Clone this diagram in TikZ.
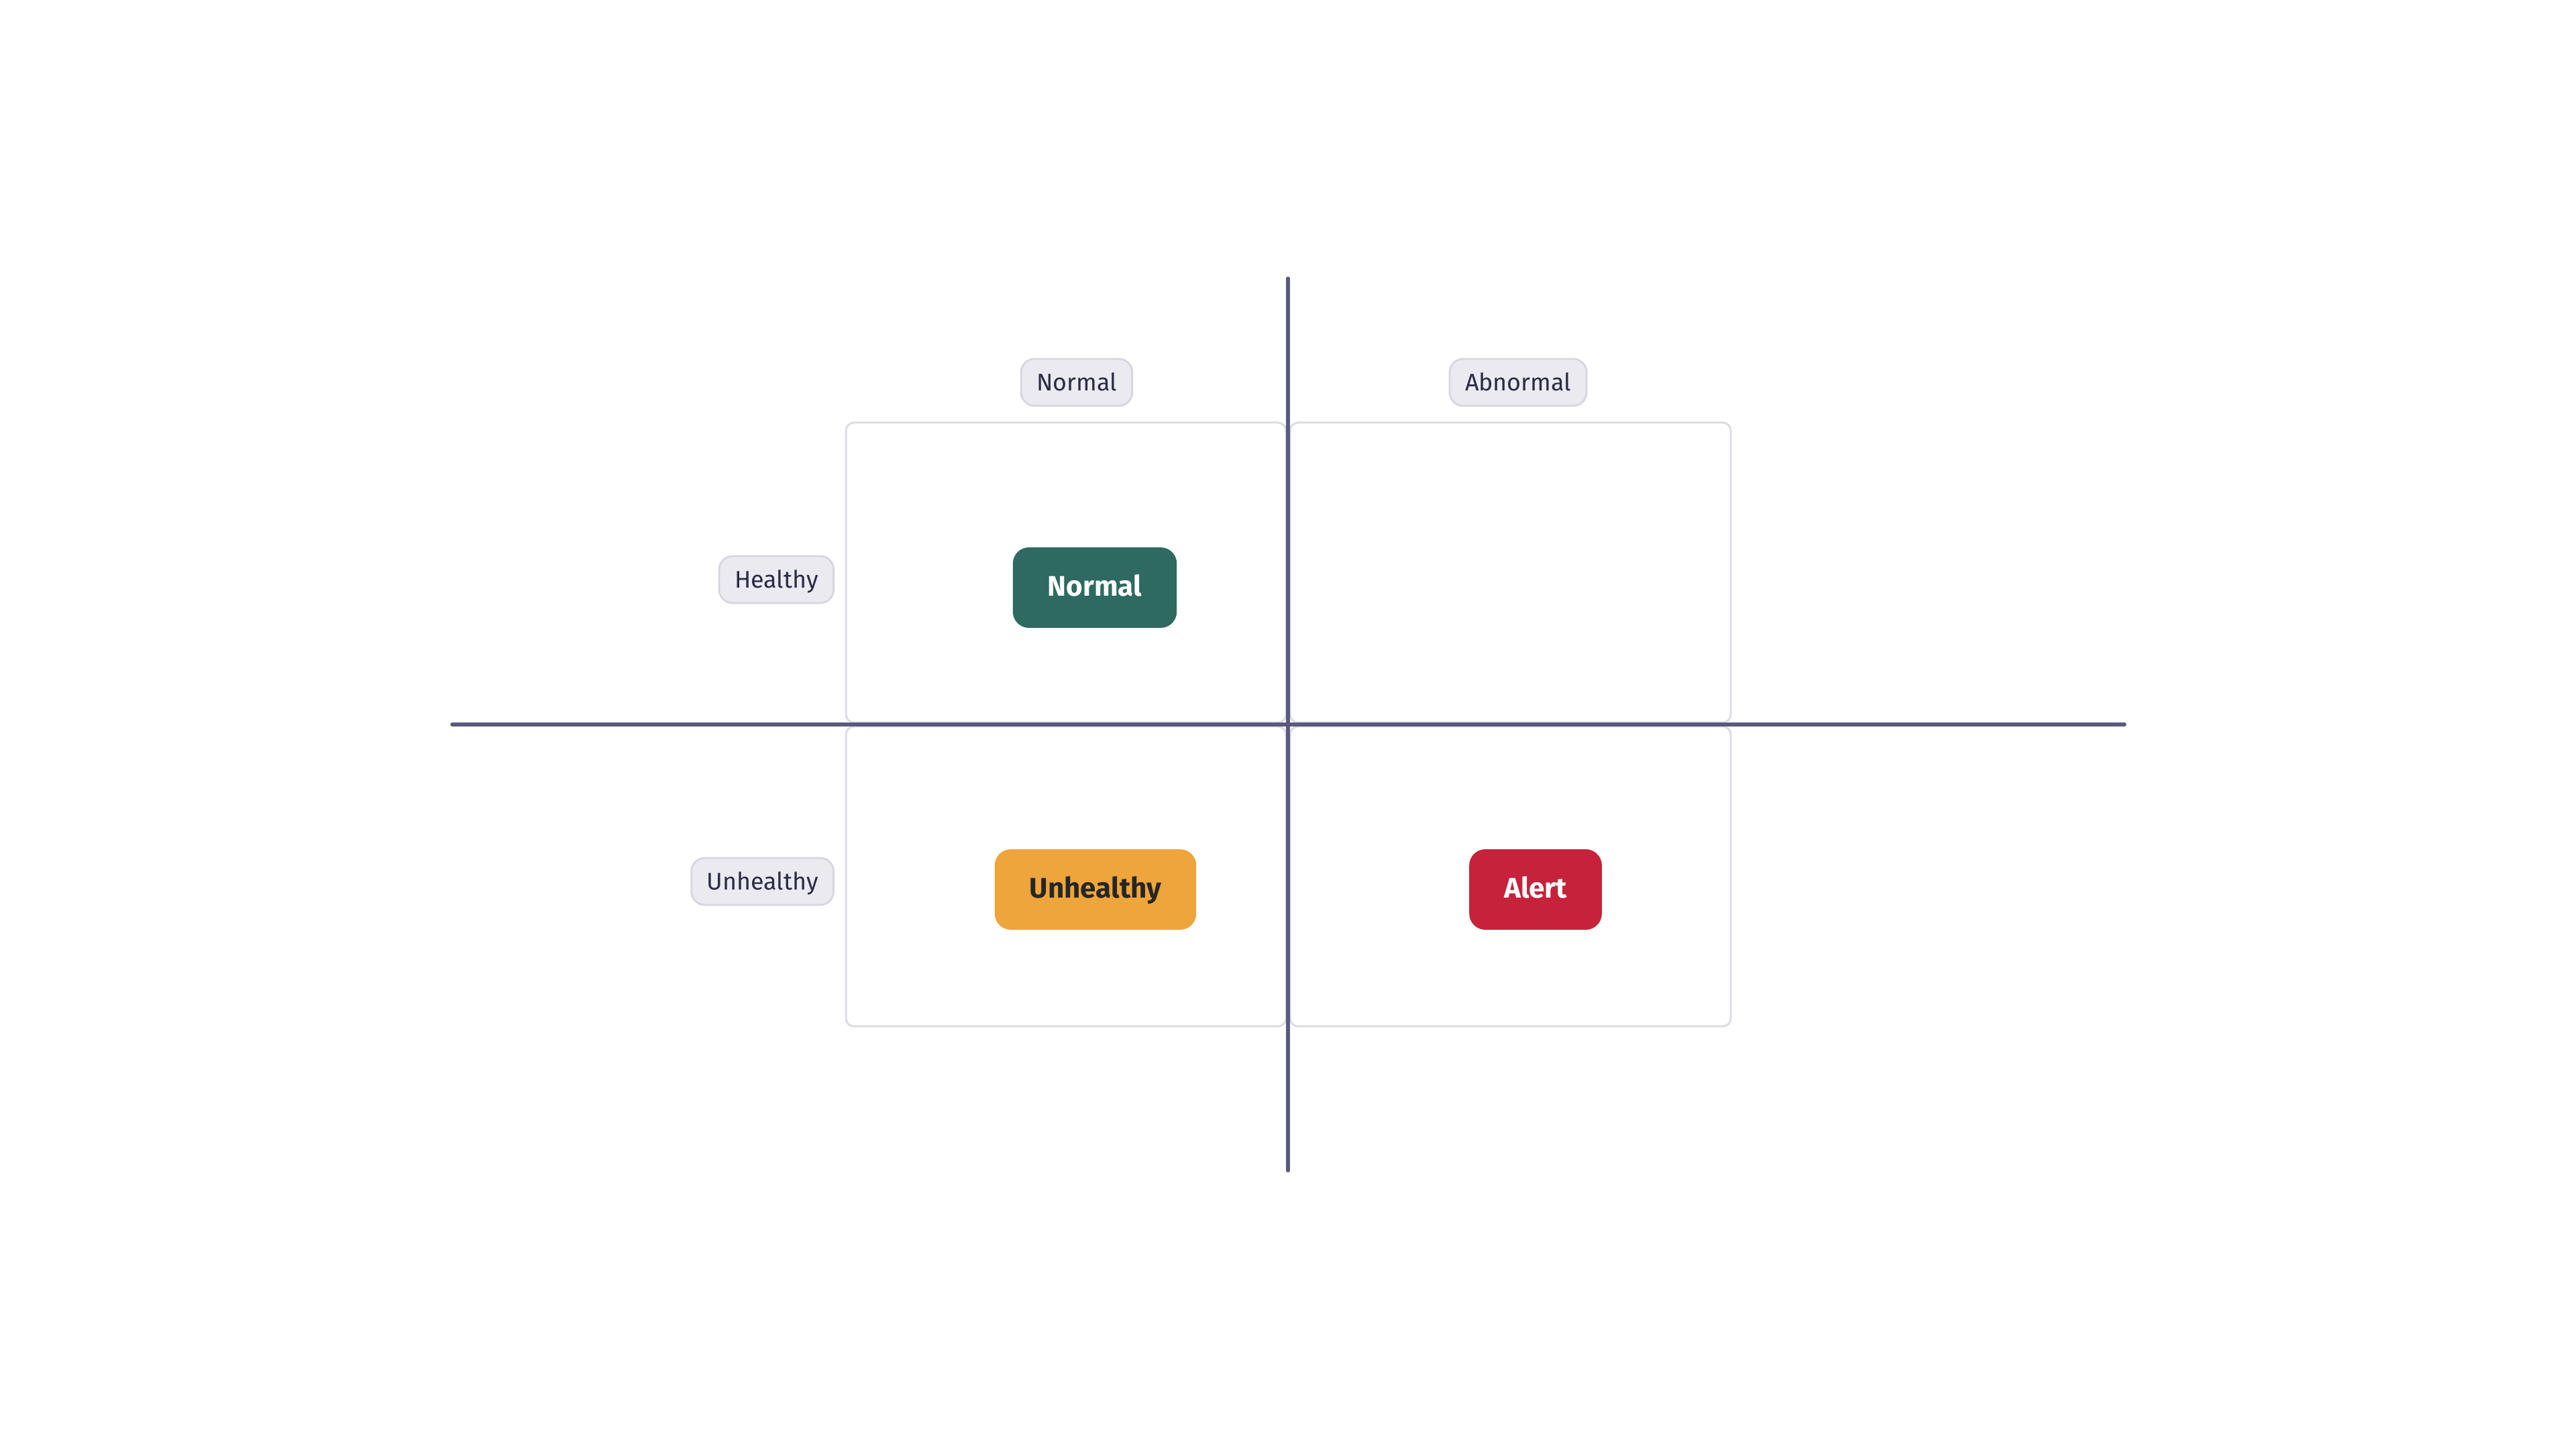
\documentclass[tikz,border=0pt]{standalone}
\usepackage{fontspec}
\setmainfont{Fira Sans}
\usetikzlibrary{positioning}
\definecolor{axisc}{HTML}{5A5A7E}
\definecolor{quadc}{HTML}{DCDCE6}
\definecolor{pillfill}{HTML}{EAEAF0}
\definecolor{pilldraw}{HTML}{D6D6E0}
\definecolor{pilltext}{HTML}{2B2A47}
\definecolor{okgreen}{HTML}{2E6A62}
\definecolor{warnorange}{HTML}{EEA53B}
\definecolor{alertred}{HTML}{C6223B}
\begin{document}
\begin{tikzpicture}[
		axis/.style={axisc, line width=1.56pt, line cap=round},
		quad/.style={quadc, line width=0.85pt, rounded corners=0.12cm},
		pill/.style={fill=pillfill, draw=pilldraw, line width=0.8pt, rounded corners=0.2cm, text=pilltext, inner xsep=0.23cm, inner ysep=0pt, minimum height=0.7cm, text height=0.69em, text depth=0pt, font=\fontsize{10.2}{12}\selectfont},
		state/.style={rounded corners=0.24cm, inner xsep=0.52cm, inner ysep=0pt, minimum height=1.2cm, text height=0.69em, text depth=0pt, font=\fontsize{12}{14}\selectfont\bfseries}
	]
		\useasboundingbox (0,0) rectangle (38.4,21.6);
		
		\draw[quad] (12.61,10.83) rectangle (19.17,15.30);
		\draw[quad] (19.23,10.83) rectangle (25.80,15.30);
		\draw[quad] (12.61,6.30) rectangle (19.17,10.77);
		\draw[quad] (19.23,6.30) rectangle (25.80,10.77);
		
		\coordinate (west) at (6.74,10.8);
		\coordinate (east) at (31.67,10.8);
		\coordinate (north) at (19.2,17.45);
		\coordinate (south) at (19.2,4.15);
		\draw[axis] (west) -- (east);
		\draw[axis] (north) -- (south);
		
		\node[pill] at (16.05,15.90) (colnormal) {Normal};
		\node[pill] at (22.63,15.90) (colabnormal) {Abnormal};
		\node[pill, anchor=east] at (12.44,12.96) (rowhealthy) {Healthy};
		\node[pill, anchor=east] at (12.44,8.46) (rowunhealthy) {Unhealthy};
		
		\node[state, fill=okgreen, text=white] at (16.32,12.84) (normal) {Normal};
		\node[state, fill=warnorange, text=black!85] at (16.33,8.34) (unhealthy) {Unhealthy};
		\node[state, fill=alertred, text=white] at (22.89,8.34) (alert) {Alert};
\end{tikzpicture}
\end{document}
